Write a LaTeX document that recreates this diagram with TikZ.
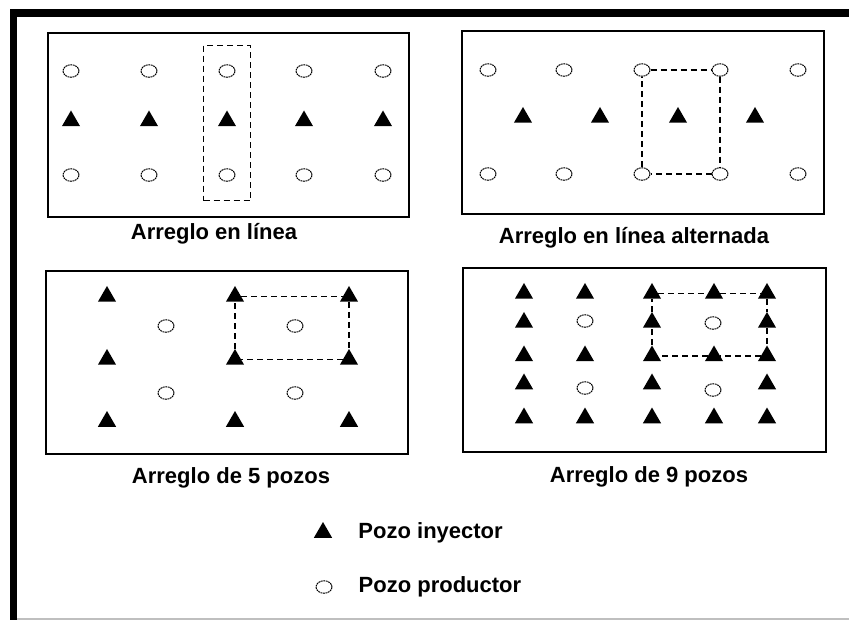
\documentclass[tikz,border=0pt]{standalone}
\usepackage{fontspec}
\setmainfont{Liberation Sans}
\usetikzlibrary{positioning,shapes,fit}
\tikzstyle{inyector} = [regular polygon, regular polygon sides=3, fill=black, %
   inner sep=0pt, minimum size=21pt]
\tikzstyle{productor} = [ellipse, draw, line width=1pt, dash pattern=on 1.8pt off 0.7pt, %
   inner sep=0pt, minimum width=16pt, minimum height=12.5pt]
\tikzstyle{campo} = [draw, line width=1.3pt]
\tikzstyle{patron} = [draw, line width=1.1pt, dash pattern=on 6pt off 4pt]
\tikzstyle{titulo} = [font=\bfseries\fontsize{22}{26}\selectfont, inner sep=0pt]

\begin{document}
\begin{tikzpicture}[x=1pt,y=-1pt]
   \useasboundingbox (0,0) rectangle (849,620);
   % Marco
   \draw[line width=7.5pt, line join=miter] (13.5,620) -- (13.5,13.25) -- (849,13.25);
   \draw[gray!50, line width=1.5pt] (17,619) -- (849,619);

   % ARREGLO EN LINEA %%%%%%%%%%%%%%%%%%%%%%%%%%%%%%%%%%%%%%%%%%%%%%%%%
   \draw[campo] (48,33) rectangle (409,217);
   \foreach \x [count=\i] in {71,149,227,304,383}{
      \node[productor] (a\i) at (\x,71) {};
      \node[inyector] (t\i) at (\x,121) {};
      \node[productor] (b\i) at (\x,175) {};
   }
   \node[patron, fit=(a3)(b3), inner xsep=15pt, inner ysep=19pt](celda1){};
   \node[titulo] (tit1) at (214,234) {Arreglo en línea};

   % ARREGLO EN LINEA ALTERNADA %%%%%%%%%%%%%%%%%%%%%%%%%%%%%%%%%%%%%%%
   \draw[campo] (462,31) rectangle (824,214);
   \foreach \x [count=\i] in {488,564,642,720,798}{
      \node[productor] (c\i) at (\x,70) {};
      \node[productor] (d\i) at (\x,174) {};
   }
   \foreach \x [count=\i] in {523,600,678,755}
      \node[inyector] (u\i) at (\x,117.5) {};
   \node[titulo] (tit2) at (634,238) {Arreglo en línea alternada};

   % ARREGLO DE 5 POZOS %%%%%%%%%%%%%%%%%%%%%%%%%%%%%%%%%%%%%%%%%%%%%%%
   \draw[campo] (46,271) rectangle (408,454);
   \foreach \y [count=\j] in {296.5,359.5,421.5}
      \foreach \x [count=\i] in {107,235,349}
         \node[inyector] (e\i\j) at (\x,\y) {};
   \foreach \x [count=\i] in {166,295}{
      \node[productor] (f\i1) at (\x,326) {};
      \node[productor] (f\i2) at (\x,393) {};
   }
   \node[titulo] (tit3) at (231,478) {Arreglo de 5 pozos};

   % ARREGLO DE 9 POZOS %%%%%%%%%%%%%%%%%%%%%%%%%%%%%%%%%%%%%%%%%%%%%%%
   \draw[campo] (463,268) rectangle (826,452);
   \foreach \k/\x in {1/524,3/652,5/767}
      \foreach \j/\y in {1/293.5,2/322.5,3/356,4/384,5/418}
         \node[inyector] (g\k\j) at (\x,\y) {};
   \foreach \k/\x in {2/585,4/714}
      \foreach \j/\y in {1/293.5,3/356,5/418}
         \node[inyector] (g\k\j) at (\x,\y) {};
   \node[productor] (h1) at (585,321) {};
   \node[productor] (h2) at (585,388) {};
   \node[productor] (h3) at (713,323) {};
   \node[productor] (h4) at (713,390) {};
   \node[titulo] (tit4) at (649,477) {Arreglo de 9 pozos};

   % Celdas
   \draw[patron] (c3) -- (c4) -- (d4) -- (d3) -- (c3);
   \draw[patron] (e21) -- (e31) -- (e32) -- (e22) -- (e21);
   \draw[patron] (g31) -- (g41) -- (g51) -- (g52) -- (g53) -- (g43) -- (g33) -- (g32) -- (g31);

   % LEYENDA %%%%%%%%%%%%%%%%%%%%%%%%%%%%%%%%%%%%%%%%%%%%%%%%%%%%%%%%%%
   \node[inyector] (leyiny) at (323,532.5) {};
   \node[productor] (leyprod) at (324,587) {};
   \node[titulo, right=29pt of leyiny] (txtiny) {Pozo inyector};
   \node[titulo, right=26pt of leyprod] (txtprod) {Pozo productor};
\end{tikzpicture}
\end{document}
